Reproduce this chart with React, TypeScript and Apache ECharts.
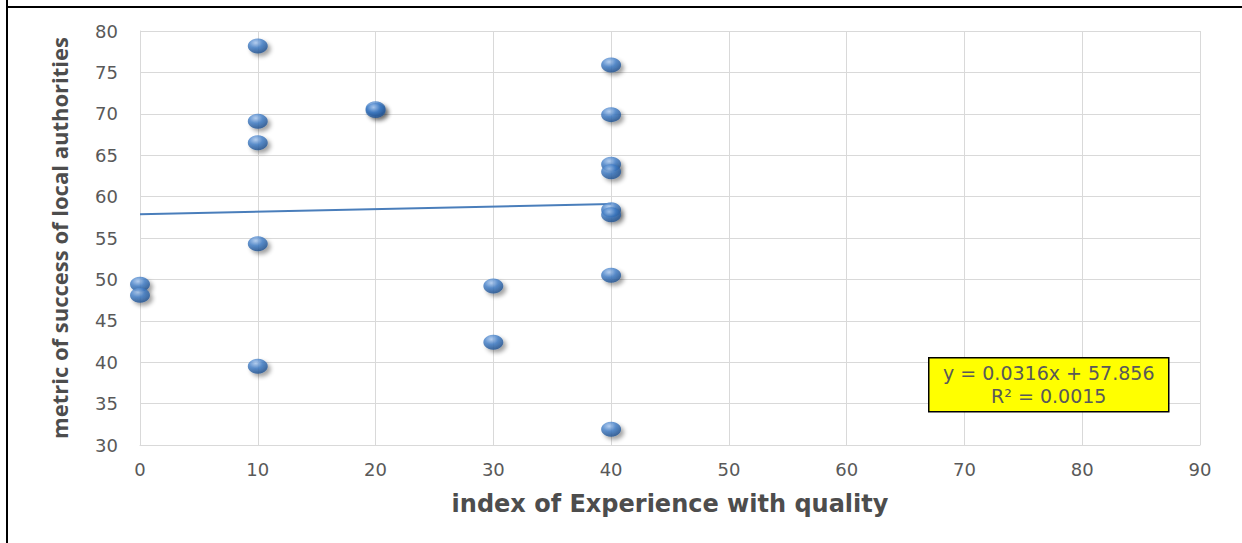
import React, { useEffect, useRef } from "react";
import * as echarts from "echarts";

// Experience index (x) and success metric (y) for each authority
const experienceIndex = [0, 0, 10, 10, 10, 10, 10, 20, 20, 30, 30, 40, 40, 40, 40, 40, 40, 40, 40];
const successMetric = [49.4, 48.1, 78.2, 69.1, 66.5, 54.3, 39.5, 70.6, 70.4, 49.2, 42.4, 75.9, 69.9, 63.9, 63.0, 58.4, 57.8, 50.5, 31.9];

// Linear trend fitted to the points
const trendSlope = 0.0316;
const trendIntercept = 57.856;
const trendRSquared = 0.0015;
const trendRange = [0, 40];

const xTicks = { min: 0, max: 90, interval: 10 };
const yTicks = { min: 30, max: 80, interval: 5 };

export default function App() {
  const ref = useRef<HTMLDivElement>(null);

  useEffect(() => {
    if (!ref.current) return;
    const chart = echarts.init(ref.current, undefined, { renderer: "svg" });

    const points = experienceIndex.map((x, i) => [x, successMetric[i]]);
    const trend = trendRange.map((x) => [x, trendSlope * x + trendIntercept]);

    const gridColor = "#d9d9d9";
    const labelColor = "#595959";
    const titleColor = "#4d4d4d";

    chart.setOption({
      animation: false,
      backgroundColor: "#ffffff",
      grid: { left: 140, right: 42, top: 31, bottom: 98, containLabel: false },
      xAxis: {
        type: "value",
        min: xTicks.min,
        max: xTicks.max,
        interval: xTicks.interval,
        name: "index of Experience with quality",
        nameLocation: "middle",
        nameGap: 47,
        nameTextStyle: {
          fontFamily: "DejaVu Sans",
          fontWeight: "bold",
          fontSize: 24,
          color: titleColor,
        },
        axisLine: { show: true, lineStyle: { color: gridColor, width: 1 } },
        axisTick: { show: false },
        axisLabel: { color: labelColor, fontSize: 18, fontFamily: "DejaVu Sans", margin: 15 },
        splitLine: { show: true, lineStyle: { color: gridColor, width: 1 } },
      },
      yAxis: {
        type: "value",
        min: yTicks.min,
        max: yTicks.max,
        interval: yTicks.interval,
        name: "metric of success of local authorities",
        nameLocation: "middle",
        nameGap: 70,
        nameRotate: 90,
        nameTextStyle: {
          fontFamily: "Open Sans",
          fontWeight: "bold",
          fontSize: 22,
          color: titleColor,
        },
        axisLine: { show: true, lineStyle: { color: gridColor, width: 1 } },
        axisTick: { show: false },
        axisLabel: { color: labelColor, fontSize: 18, fontFamily: "DejaVu Sans", margin: 22 },
        splitLine: { show: true, lineStyle: { color: gridColor, width: 1 } },
      },
      series: [
        {
          type: "line",
          data: trend,
          showSymbol: false,
          symbol: "none",
          lineStyle: { color: "#4a7ebb", width: 2 },
          z: 2,
          silent: true,
        },
        {
          type: "scatter",
          data: points,
          symbol: "circle",
          symbolSize: [20, 15],
          z: 3,
          itemStyle: {
            color: {
              type: "radial",
              x: 0.4,
              y: 0.3,
              r: 0.75,
              colorStops: [
                { offset: 0, color: "#a9c8f0" },
                { offset: 0.45, color: "#3f7cc6" },
                { offset: 1, color: "#1b4a86" },
              ],
            },
            shadowBlur: 4,
            shadowColor: "rgba(0,0,0,0.45)",
            shadowOffsetX: 3,
            shadowOffsetY: 3,
          },
        },
      ],
      graphic: [
        // frame around the chart area
        { type: "line", z: 100, shape: { x1: 7, y1: 0, x2: 7, y2: 543 }, style: { stroke: "#000", lineWidth: 2 } },
        { type: "line", z: 100, shape: { x1: 6, y1: 7, x2: 1242, y2: 7 }, style: { stroke: "#000", lineWidth: 2 } },
        // trend equation box
        {
          type: "group",
          left: 928,
          top: 357,
          z: 100,
          children: [
            {
              type: "rect",
              z: 100,
              shape: { x: 0, y: 0, width: 240, height: 54 },
              style: { fill: "#ffff00", stroke: "#000", lineWidth: 1.5 },
            },
            {
              type: "text",
              z: 101,
              x: 120,
              y: 15,
              style: {
                text: `y = ${trendSlope}x + ${trendIntercept}`,
                fill: "#595959",
                font: "19px 'DejaVu Sans', sans-serif",
                align: "center",
                verticalAlign: "middle",
              },
            },
            {
              type: "text",
              z: 101,
              x: 120,
              y: 38,
              style: {
                text: `R² = ${trendRSquared}`,
                fill: "#595959",
                font: "19px 'DejaVu Sans', sans-serif",
                align: "center",
                verticalAlign: "middle",
              },
            },
          ],
        },
      ],
    });

    return () => chart.dispose();
  }, []);

  return (
    <div
      ref={ref}
      style={{ position: "fixed", left: 0, top: 0, width: 1242, height: 543 }}
    />
  );
}
